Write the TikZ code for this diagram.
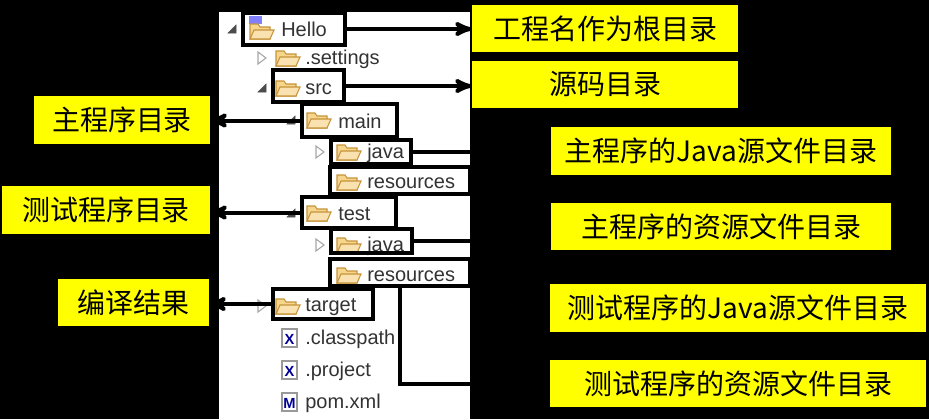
\documentclass[tikz,border=0pt]{standalone}
\usepackage{fontspec}
\setmainfont{Liberation Sans}
\newfontfamily\cjk{Noto Sans CJK SC}
\usetikzlibrary{
	arrows,
	fit,
	positioning
}
\definecolor{labelyellow}{HTML}{FFFF00}
\definecolor{folderfill}{HTML}{F6D58C}
\definecolor{folderedge}{HTML}{C7933A}
\tikzset{
	>=stealth',
	treebox/.style={draw, line width=3pt, inner sep=0pt},
	treetext/.style={anchor=west, inner sep=0pt, font=\fontsize{15}{17}\selectfont, text=black!80},
	labelbox/.style={fill=labelyellow, inner sep=0pt},
	labeltext/.style={font=\cjk\fontsize{21}{24}\selectfont},
	pointer/.style={->, line width=3pt},
	openmark/.style={fill=black!70, draw=black!70},
	closedmark/.style={draw=black!35, line width=0.8pt, fill=white}
}
% folder icon at a row position
\newcommand{\foldericon}[2]{
	\draw[folderedge, fill=folderfill, line width=0.8pt]
		(#1,#2+8) -- (#1,#2-7) -- (#1+8,#2-7) -- (#1+10,#2-4) -- (#1+20,#2-4) -- (#1+20,#2+8) -- cycle;
	\draw[folderedge, fill=folderfill!70!white, line width=0.8pt]
		(#1,#2+8) -- (#1+4,#2-1) -- (#1+24,#2-1) -- (#1+20,#2+8) -- cycle;
}
\newcommand{\fileicon}[3]{
	\draw[black!40, fill=white, line width=0.8pt] (#1,#2-9) rectangle (#1+15,#2+9);
	\node[font=\bfseries\fontsize{11}{11}\selectfont, text=blue!60!black] at (#1+7.5,#2+1) {#3};
}
\newcommand{\openmark}[2]{\fill[openmark] (#1+4,#2-4) -- (#1+4,#2+4) -- (#1-4,#2+4) -- cycle;}
\newcommand{\closedmark}[2]{\draw[closedmark] (#1-4,#2-6) -- (#1+4,#2) -- (#1-4,#2+6) -- cycle;}

\begin{document}
\begin{tikzpicture}[x=0.75pt, y=-0.75pt]
	\fill[black] (0,0) rectangle (929,419);
	\useasboundingbox (0,0) rectangle (929,419);
	\fill[white] (219,12) rectangle (470,419);

	% tree
	\openmark{232}{29}
	\fill[blue!50] (249,16) rectangle (262,24);
	\foldericon{250}{31}
	\node[treetext] (thello) at (281,29) {Hello};
	\closedmark{262}{58}
	\foldericon{276}{58}
	\node[treetext] at (305,59) {.settings};
	\openmark{262}{88}
	\foldericon{276}{88}
	\node[treetext] (tsrc) at (305,89) {src};
	\openmark{291}{120}
	\foldericon{307}{120}
	\node[treetext] (tmain) at (338,121) {main};
	\closedmark{320}{152}
	\foldericon{337}{152}
	\node[treetext] (tmjava) at (367,153) {java};
	\foldericon{337}{182}
	\node[treetext] (tmres) at (367,183) {resources};
	\openmark{291}{213}
	\foldericon{307}{213}
	\node[treetext] (ttest) at (338,214) {test};
	\closedmark{320}{245}
	\foldericon{337}{245}
	\node[treetext] (ttjava) at (367,246) {java};
	\foldericon{337}{275}
	\node[treetext] (ttres) at (367,276) {resources};
	\closedmark{262}{306}
	\foldericon{276}{306}
	\node[treetext] (ttarget) at (305,307) {target};
	\fileicon{282}{338}{X}
	\node[treetext] at (305,339) {.classpath};
	\fileicon{282}{370}{X}
	\node[treetext] at (305,371) {.project};
	\fileicon{282}{402}{M}
	\node[treetext] at (305,403) {pom.xml};

	% frames round the tree rows
	\node[treebox, fit={(243,13) (345,45)}] (hello) {};
	\node[treebox, fit={(273,70) (344,102)}] (src) {};
	\node[treebox, fit={(302,104) (397,137)}] (main) {};
	\node[treebox, fit={(331,140) (411,164)}] (mjava) {};
	\node[treebox, fit={(330,167) (470,194)}] (mres) {};
	\node[treebox, fit={(302,197) (396,228)}] (test) {};
	\node[treebox, fit={(331,229) (412,253)}] (tjava) {};
	\node[treebox, fit={(330,259) (470,286)}] (tres) {};
	\node[treebox, fit={(273,289) (373,319)}] (target) {};

	% labels
	\node[labelbox, fit={(472,5) (738,52)}, label={[labeltext]center:工程名作为根目录}] (lroot) {};
	\node[labelbox, fit={(472,61) (738,108)}, label={[labeltext]center:源码目录}] (lsrc) {};
	\node[labelbox, fit={(551,127) (891,175)}, label={[labeltext]center:主程序的Java源文件目录}] (lmjava) {};
	\node[labelbox, fit={(551,203) (891,250)}, label={[labeltext]center:主程序的资源文件目录}] (lmres) {};
	\node[labelbox, fit={(550,284) (926,332)}, label={[labeltext]center:测试程序的Java源文件目录}] (ltjava) {};
	\node[labelbox, fit={(550,360) (926,407)}, label={[labeltext]center:测试程序的资源文件目录}] (ltres) {};
	\node[labelbox, fit={(34,96) (210,144)}, label={[labeltext]center:主程序目录}] (lmain) {};
	\node[labelbox, fit={(2,186) (210,234)}, label={[labeltext]center:测试程序目录}] (ltest) {};
	\node[labelbox, fit={(58,279) (209,326)}, label={[labeltext]center:编译结果}] (ltarget) {};

	% connectors
	\draw[pointer] (hello.east) -- (hello.east -| lroot.west);
	\draw[pointer] (src.east) -- (src.east -| lsrc.west);
	\draw[pointer] (main.west) -- (main.west -| lmain.east);
	\draw[pointer] (test.west) -- (test.west -| ltest.east);
	\draw[pointer] (target.west) -- (target.west -| ltarget.east);
	\draw[line width=3pt] (mjava.east) -- (mjava.east -| lmjava.west);
	\draw[line width=3pt] (tjava.east) -- (tjava.east -| ltjava.west);
	\draw[line width=3pt] (tres.south) -- (tres.south |- ltres.west) -- (ltres.west);
\end{tikzpicture}
\end{document}
